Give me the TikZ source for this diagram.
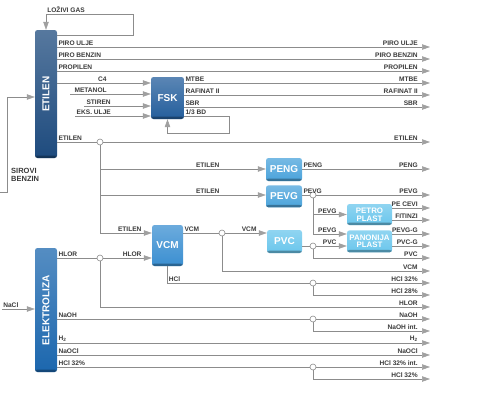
\documentclass[tikz,border=0pt]{standalone}
\usepackage{fontspec}
\setmainfont{Liberation Sans}
\usetikzlibrary{arrows.meta, positioning}
\definecolor{linegray}{HTML}{8C8C8C}
\definecolor{tipgray}{HTML}{A0A0A0}
\definecolor{txtgray}{HTML}{3A3A3A}
\definecolor{navy}{HTML}{1E4B7E}
\definecolor{fskblue}{HTML}{245E9C}
\definecolor{elblue}{HTML}{1C67AE}
\definecolor{vcmblue}{HTML}{3B8FD1}
\definecolor{pengblue}{HTML}{4AA3DB}
\definecolor{plastblue}{HTML}{6AC6EC}
\tikzset{
    unit/.style={rectangle, rounded corners=2.5pt, top color=#1!75!white, bottom color=#1, text=white,
        font=\fontsize{10}{10}\selectfont\bfseries, inner sep=0pt, align=center,
        path picture={\fill[black, opacity=0.3] (path picture bounding box.south west) rectangle ([yshift=2.5pt]path picture bounding box.south east);}},
    bar/.style={unit=#1, minimum width=22pt},
    plast/.style={font=\fontsize{7.9}{7.6}\selectfont\bfseries},
    line/.style={draw=linegray, line width=0.6pt},
    arrow/.style={line, -{Triangle[length=8pt, width=5.5pt, color=tipgray]}},
    lbl/.style={font=\fontsize{6.6}{7}\selectfont\bfseries, text=txtgray, inner sep=1pt},
    startlbl/.style={lbl, above right},
    endlbl/.style={lbl, above left, xshift=-9pt},
    outlbl/.style={lbl, above left, xshift=-11pt},
    junc/.style={circle, draw=linegray, fill=white, line width=0.6pt, minimum size=6pt, inner sep=0pt}
}
\begin{document}
\begin{tikzpicture}[x=1pt, y=-1pt]
    \useasboundingbox (0,0) rectangle (498,413);
    % units
    \node (etilen) [bar=navy, minimum height=128pt] at (46,94) {\rotatebox{90}{ETILEN}};
    \node (elektro) [bar=elblue, minimum height=124pt] at (46,310) {\rotatebox{90}{ELEKTROLIZA}};
    \node (fsk) [unit=fskblue, minimum width=33pt, minimum height=42pt] at (167.5,98) {FSK};
    \node (vcm) [unit=vcmblue, minimum width=31pt, minimum height=41pt] at (167.5,245.5) {VCM};
    \node (peng) [unit=pengblue, minimum width=36pt, minimum height=23pt] at (284,169.5) {PENG};
    \node (pevg) [unit=pengblue, minimum width=36pt, minimum height=22pt, below=4pt of peng] {PEVG};
    \node (pvc) [unit=plastblue, minimum width=35pt, minimum height=23pt] at (284.5,241.5) {PVC};
    \node (petro) [unit=plastblue, plast, minimum width=45pt, minimum height=21pt] at (369.5,214.5) {PETRO\\PLAST};
    \node (panon) [unit=plastblue, plast, minimum width=45pt, minimum height=22pt, below=5pt of petro] {PANONIJA\\PLAST};
    \node (sirovi) [lbl, align=left, anchor=north west, font=\fontsize{7.5}{8}\selectfont\bfseries] at (10,167) {SIROVI\\BENZIN};

    % junctions
    \node (jet) [junc] at (100,142) {};
    \node (jhlor) [junc] at (100,258) {};
    \node (jvcm) [junc] at (222,233) {};
    \node (jpevg) [junc] at (313,195) {};
    \node (jpvc) [junc] at (313,246) {};
    \node (jhcl) [junc] at (313,283) {};
    \node (jnaoh) [junc] at (313,319) {};
    \node (jhcli) [junc] at (313,367) {};

    % free ends
    \foreach \n/\y in {pu/47, pb/59, pr/71, mtbe/83, raf/95, sbr/107, et/142, peng/169, pevg/195,
        cevi/208, fit/220, pevgg/234, pvcg/246, pvc/258, vcm/271, hcl/283, hcla/295, hlor/307,
        naoh/319, naohi/331, hh/343, naocl/355, hcli/367, hclb/379}
        \coordinate (out-\n) at (430,\y);
    \coordinate (gas) at (133,14);
    \coordinate (benz) at (0,192);
    \coordinate (nacl) at (2,309);
    \coordinate (met) at (70,94);
    \coordinate (sti) at (84,106);
    \coordinate (eks) at (75,116);
    \coordinate (bd) at (229,133);

    % ETILEN
    \draw [arrow] (benz) -- ++(7,0) |- ([yshift=-3pt]etilen.west);
    \draw [arrow] ([yshift=-5pt]etilen.north east) -| (gas) -- (gas -| etilen) node [startlbl] {LOŽIVI GAS} -- (etilen.north);
    \foreach \n/\txt in {pu/PIRO ULJE, pb/PIRO BENZIN, pr/PROPILEN}
        \draw [arrow] (etilen.east |- out-\n) node [startlbl] {\txt} -- (out-\n) node [outlbl] {\txt};

    % FSK
    \draw [arrow] (etilen.east |- out-mtbe) -- (fsk.west |- out-mtbe) node [lbl, above left, pos=0.54] {C4};
    \draw [arrow] (met) -- (fsk.west |- met) node [lbl, above left, pos=0.47] {METANOL};
    \draw [arrow] (sti) -- (fsk.west |- sti) node [lbl, above left, pos=0.42] {STIREN};
    \draw [arrow] (eks) -- (fsk.west |- eks) node [lbl, above left, pos=0.49] {EKS. ULJE};
    \foreach \n/\txt in {mtbe/MTBE, raf/RAFINAT II, sbr/SBR}
        \draw [arrow] (fsk.east |- out-\n) node [startlbl] {\txt} -- (out-\n) node [outlbl] {\txt};
    \draw [arrow] ([yshift=-18pt]fsk.east) node [startlbl] {1/3 BD} -| (bd) -| (fsk.south);

    % ETILEN branch
    \draw [line] (etilen.east |- jet) node [startlbl] {ETILEN} -- (jet);
    \draw [arrow] (jet) -- (out-et) node [outlbl] {ETILEN};
    \draw [arrow] (jet) |- (peng.west |- out-peng) node [lbl, above left, xshift=-45pt] {ETILEN};
    \draw [arrow] (jet) |- (pevg.west |- out-pevg) node [lbl, above left, xshift=-45pt] {ETILEN};
    \draw [arrow] (jet) |- ([yshift=12.5pt]vcm.west) node [endlbl] {ETILEN};

    % PENG, PEVG
    \draw [arrow] (peng.east |- out-peng) node [startlbl] {PENG} -- (out-peng) node [outlbl] {PENG};
    \draw [line] (pevg.east |- jpevg) node [startlbl] {PEVG} -- (jpevg);
    \draw [arrow] (jpevg) -- (out-pevg) node [outlbl] {PEVG};
    \draw [arrow] (jpevg) |- (petro.west) node [endlbl] {PEVG};
    \draw [arrow] (jpevg) |- (panon.west |- out-pevgg) node [endlbl] {PEVG};
    \foreach \n/\txt in {cevi/PE CEVI, fit/FITINZI}
        \draw [arrow] (petro.east |- out-\n) -- (out-\n) node [outlbl] {\txt};
    \foreach \n/\txt in {pevgg/PEVG-G, pvcg/PVC-G}
        \draw [arrow] (panon.east |- out-\n) -- (out-\n) node [outlbl] {\txt};

    % VCM, PVC
    \draw [line] (vcm.east |- jvcm) node [startlbl] {VCM} -- (jvcm);
    \draw [arrow] (jvcm) -- (pvc.west |- jvcm) node [endlbl] {VCM};
    \draw [arrow] (jvcm) |- (out-vcm) node [outlbl] {VCM};
    \draw [line] (pvc.east |- jpvc) -- (jpvc);
    \draw [arrow] (jpvc) -- (panon.west |- jpvc) node [endlbl] {PVC};
    \draw [arrow] (jpvc) |- (out-pvc) node [outlbl] {PVC};
    \draw [line] (vcm.south) |- (jhcl) node [startlbl, pos=0.5] {HCl};
    \draw [arrow] (jhcl) -- (out-hcl) node [outlbl] {HCl 32\%};
    \draw [arrow] (jhcl) |- (out-hcla) node [outlbl] {HCl 28\%};

    % ELEKTROLIZA
    \draw [arrow] (nacl) -- (elektro.west |- nacl) node [startlbl, pos=0] {NaCl};
    \draw [line] (elektro.east |- jhlor) node [startlbl] {HLOR} -- (jhlor);
    \draw [arrow] (jhlor) -- ([yshift=-12.5pt]vcm.west) node [endlbl] {HLOR};
    \draw [arrow] (jhlor) |- (out-hlor) node [outlbl] {HLOR};
    \draw [line] (elektro.east |- jnaoh) node [startlbl] {NaOH} -- (jnaoh);
    \draw [arrow] (jnaoh) -- (out-naoh) node [outlbl] {NaOH};
    \draw [arrow] (jnaoh) |- (out-naohi) node [outlbl] {NaOH int.};
    \draw [arrow] (elektro.east |- out-hh) node [startlbl] {H\textsubscript{2}} -- (out-hh) node [outlbl] {H\textsubscript{2}};
    \draw [arrow] (elektro.east |- out-naocl) node [startlbl] {NaOCl} -- (out-naocl) node [outlbl] {NaOCl};
    \draw [line] (elektro.east |- jhcli) node [startlbl] {HCl 32\%} -- (jhcli);
    \draw [arrow] (jhcli) -- (out-hcli) node [outlbl] {HCl 32\% int.};
    \draw [arrow] (jhcli) |- (out-hclb) node [outlbl] {HCl 32\%};
\end{tikzpicture}
\end{document}
